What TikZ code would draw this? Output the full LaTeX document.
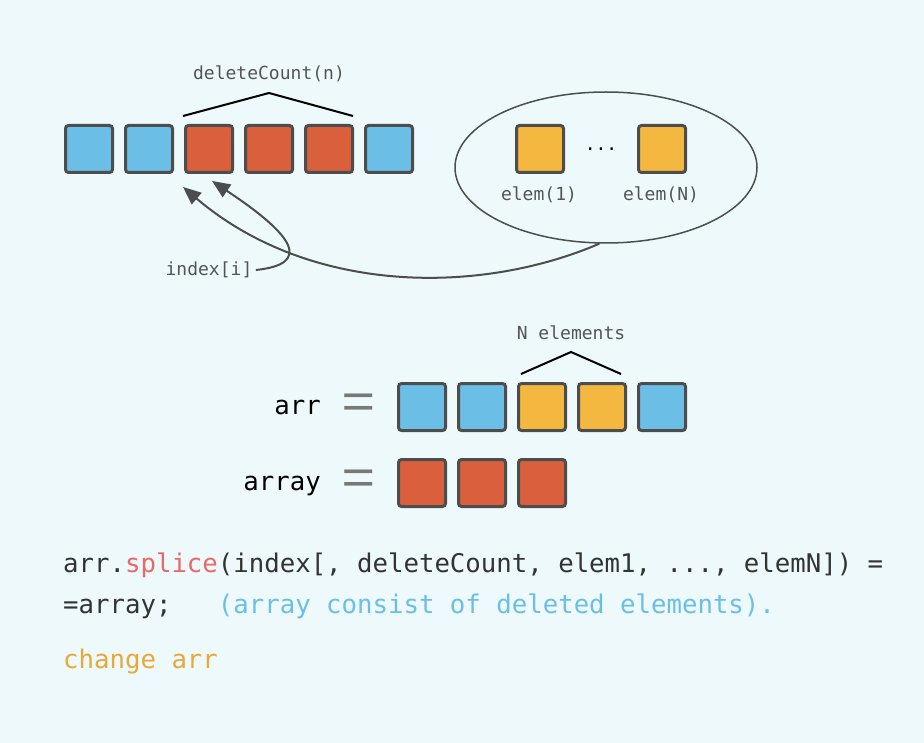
\documentclass[tikz,border=0pt]{standalone}
\usepackage{fontspec}
\setmonofont{DejaVu Sans Mono}
\newfontfamily\thinmono{Liberation Mono}
\usepackage{graphicx}
\usetikzlibrary{shapes.geometric,arrows.meta}

\definecolor{bgcol}{RGB}{237,249,250}
\definecolor{cellblue}{RGB}{107,191,231}
\definecolor{cellred}{RGB}{217,95,61}
\definecolor{cellorange}{RGB}{244,183,64}
\definecolor{edgegray}{RGB}{77,77,77}
\definecolor{taggray}{RGB}{85,85,85}
\definecolor{codetext}{RGB}{51,51,51}
\definecolor{splicered}{RGB}{232,104,106}
\definecolor{noteblue}{RGB}{107,191,231}
\definecolor{notechange}{RGB}{232,168,58}
\definecolor{equalgray}{RGB}{120,120,120}

\tikzset{
  cell/.style={draw=edgegray, line width=3pt, rounded corners=3pt, minimum size=47pt, inner sep=0pt},
  tag/.style={text=taggray, font=\ttfamily\fontsize{18}{20}\selectfont},
  codeline/.style={anchor=base west, inner sep=0pt, text=codetext, font=\ttfamily\fontsize{25.7}{30}\selectfont},
  varname/.style={anchor=base east, inner sep=0pt, text=black, font=\ttfamily\fontsize{25.7}{30}\selectfont},
  equal/.style={text=equalgray, font=\thinmono\fontsize{50}{52}\selectfont},
  pointer/.style={draw=edgegray, line width=2pt, -{Triangle[length=18pt,width=15pt]}},
}

\begin{document}
\begin{tikzpicture}[x=1pt,y=-1pt]
\fill[bgcol] (0,0) rectangle (924,743);
\useasboundingbox (0,0) rectangle (924,743);

\node[cell,fill=cellblue] (s1) at (89,149) {};
\node[cell,fill=cellblue] (s2) at (149,149) {};
\node[cell,fill=cellred] (s3) at (209,149) {};
\node[cell,fill=cellred] (s4) at (269,149) {};
\node[cell,fill=cellred] (s5) at (329,149) {};
\node[cell,fill=cellblue] (s6) at (389,149) {};

\node[tag] (dc) at (269,74) {deleteCount(n)};
\draw[line width=2pt] (183,116) -- (269,93) -- (353,116);

\node[draw=edgegray, line width=1.5pt, ellipse, minimum width=302pt, minimum height=151pt] (pool) at (606,167.5) {};
\node[cell,fill=cellorange] (e1) at (540,149) {};
\node[cell,fill=cellorange] (eN) at (662,149) {};
\node[tag, text=black, anchor=base] (dots) at (601,151) {...};
\node[tag] (e1l) at (539,195) {elem(1)};
\node[tag] (eNl) at (661,195) {elem(N)};

\node[tag] (idx) at (209,270) {index[i]};
\coordinate (t1) at (183,187);
\coordinate (t2) at (212,181);
\draw[pointer] (pool.265) .. controls (480,295) and (310,295) .. (t1);
\draw[pointer] (idx.east) .. controls (312,264) and (295,236) .. (t2);

\node[tag] (ne) at (571,333) {N elements};
\draw[line width=2pt] (521,374) -- (571,352) -- (621,374);

\node[varname] (arrname) at (321,414) {arr};
\node[equal] (eq1) at (359,406.5) {\scalebox{1.15}[1]{=}};
\node[cell,fill=cellblue] (a1) at (422,407) {};
\node[cell,fill=cellblue] (a2) at (482,407) {};
\node[cell,fill=cellorange] (a3) at (542,407) {};
\node[cell,fill=cellorange] (a4) at (602,407) {};
\node[cell,fill=cellblue] (a5) at (662,407) {};

\node[varname] (arrayname) at (321,490) {array};
\node[equal] (eq2) at (359,482.5) {\scalebox{1.15}[1]{=}};
\node[cell,fill=cellred] (r1) at (422,483) {};
\node[cell,fill=cellred] (r2) at (482,483) {};
\node[cell,fill=cellred] (r3) at (542,483) {};

\node[codeline] (l1) at (63,572) {arr.\textcolor{splicered}{splice}(index[, deleteCount, elem1, ..., elemN]) =};
\node[codeline] (l2) at (63,613) {=array;\ \ \ \textcolor{noteblue}{(array consist of deleted elements).}};
\node[codeline, text=notechange] (l3) at (63,668) {change arr};

\end{tikzpicture}
\end{document}
